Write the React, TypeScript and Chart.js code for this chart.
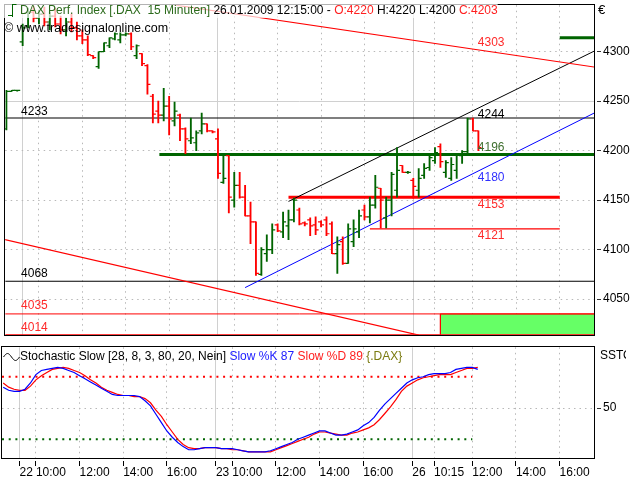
import React, { useEffect, useRef } from 'react';
import { Chart, registerables } from 'chart.js';

Chart.register(...registerables);

const FONT = '"Liberation Sans", Arial, Helvetica, sans-serif';
const GREEN = '#006400';
const RED = '#ff0000';
const BLUE = '#0000ff';

// ---------------- data (bar index -2 .. 85, 15-minute bars) ----------------
const FIRST_BAR = -2;
const opens = [
  4222, 4260, 4261, 4310, 4326, 4340, 4334, 4338, 4330, 4336, 4328, 4322, 4330, 4324, 4316, 4312,
  4296, 4285, 4300, 4306, 4313, 4312, 4317, 4318, 4296, 4298, 4286, 4255, 4240, 4236, 4245, 4230,
  4236, 4222, 4210, 4208, 4220, 4227, 4220, 4212, 4168, 4195, 4150, 4165, 4153, 4134, 4128, 4075,
  4096, 4100, 4125, 4118, 4124, 4130, 4140, 4127, 4130, 4125, 4128, 4130, 4126, 4096, 4108, 4086,
  4108, 4118, 4140, 4133, 4145, 4162, 4132, 4150, 4160, 4185, 4178, 4170, 4160, 4175, 4183, 4190,
  4204, 4178, 4172, 4180, 4195, 4199, 4232, 4220,
];
const highs = [
  4261, 4261, 4261, 4328, 4344, 4346, 4342, 4345, 4340, 4344, 4336, 4334, 4338, 4330, 4322, 4316,
  4296, 4300, 4309, 4314, 4319, 4319, 4319, 4319, 4307, 4298, 4287, 4257, 4250, 4263, 4255, 4249,
  4237, 4223, 4233, 4220, 4238, 4227, 4220, 4222, 4196, 4195, 4178, 4178, 4165, 4148, 4128, 4102,
  4115, 4126, 4126, 4138, 4140, 4152, 4142, 4128, 4132, 4133, 4129, 4133, 4128, 4113, 4113, 4126,
  4130, 4140, 4145, 4153, 4175, 4162, 4153, 4178, 4203, 4185, 4179, 4172, 4182, 4187, 4197, 4203,
  4207, 4190, 4193, 4197, 4200, 4233, 4233, 4220,
];
const lows = [
  4221, 4260, 4260, 4306, 4324, 4330, 4328, 4326, 4322, 4325, 4318, 4316, 4320, 4312, 4308, 4296,
  4293, 4283, 4300, 4304, 4312, 4309, 4316, 4302, 4293, 4286, 4257, 4228, 4228, 4230, 4216, 4225,
  4210, 4197, 4207, 4200, 4217, 4219, 4218, 4172, 4167, 4137, 4143, 4152, 4134, 4106, 4074, 4074,
  4088, 4096, 4118, 4112, 4110, 4128, 4125, 4124, 4114, 4115, 4123, 4114, 4096, 4076, 4085, 4086,
  4103, 4112, 4130, 4127, 4142, 4122, 4122, 4134, 4153, 4178, 4177, 4152, 4153, 4172, 4180, 4187,
  4183, 4173, 4170, 4172, 4187, 4197, 4220, 4200,
];
const closes = [
  4260, 4261, 4261, 4324, 4340, 4334, 4338, 4330, 4336, 4328, 4322, 4330, 4324, 4316, 4312, 4297,
  4294, 4300, 4309, 4314, 4318, 4317, 4318, 4305, 4306, 4288, 4267, 4237, 4236, 4245, 4232, 4240,
  4222, 4212, 4213, 4218, 4227, 4220, 4219, 4177, 4172, 4153, 4165, 4153, 4134, 4128, 4076, 4100,
  4100, 4120, 4119, 4128, 4130, 4150, 4126, 4126, 4124, 4120, 4125, 4116, 4096, 4105, 4086, 4121,
  4121, 4134, 4133, 4145, 4163, 4150, 4150, 4176, 4180, 4178, 4178, 4164, 4172, 4182, 4193, 4198,
  4189, 4188, 4186, 4196, 4199, 4232, 4220, 4203,
];
const slowK = [
  70, 67, 66, 66, 68, 74, 82, 86, 87, 88, 89, 88, 86, 84, 81, 78,
  75, 72, 69, 66, 63, 62, 62, 62, 62, 61, 57, 52, 44, 36, 28, 22,
  17, 13, 10, 10, 11, 12, 12, 12, 11, 11, 11, 10, 9, 8, 8, 8,
  8, 9, 11, 13, 15, 17, 20, 22, 24, 26, 28, 28, 26, 24, 24, 25,
  27, 29, 33, 36, 41, 48, 54, 59, 64, 69, 74, 77, 79, 80, 82, 83,
  83, 83, 84, 87, 88, 89, 89, 87,
];
const slowD = [
  74, 70, 68, 67, 67, 71, 77, 81, 84, 87, 88, 89, 88, 86, 84, 81,
  77, 74, 70, 67, 65, 63, 62, 62, 61, 61, 59, 55, 48, 42, 34, 27,
  20, 15, 12, 11, 11, 12, 12, 12, 11, 11, 10, 10, 9, 8, 8, 8,
  8, 8, 10, 12, 14, 16, 18, 20, 22, 25, 27, 27, 26, 25, 24, 24,
  26, 27, 29, 31, 34, 39, 45, 51, 58, 66, 71, 74, 77, 79, 80, 81,
  82, 82, 82, 84, 86, 88, 88, 89,
];

const timeTicks = [1, 4, 12, 20, 28, 37, 40, 48, 56, 64, 73, 77, 84, 92, 100];
const timeTickLabels = ['22', '10:00', '12:00', '14:00', '16:00', '23', '10:00', '12:00', '14:00', '16:00', '26', '10:15', '12:00', '14:00', '16:00'];
const dayTicks = [1, 37, 73];
const priceTicks = [4050, 4100, 4150, 4200, 4250, 4300];
const majorPriceTicks = [4250];
const stochTicks = [50];

const X_MIN = -2.218;
const X_MAX = 106.31;
const PRICE_MIN = 4013.9;
const PRICE_MAX = 4347;
const STOCH_MIN = 1.8;
const STOCH_MAX = 108.2;

// drawing tools on the price panel
const horizontalLevels = [
  { from: X_MIN, to: X_MAX, value: 4233, color: '#000000', width: 1.2 },
  { from: X_MIN, to: X_MAX, value: 4068, color: '#000000', width: 1.2 },
  { from: X_MIN, to: X_MAX, value: 4035, color: RED, width: 1 },
  { from: X_MIN, to: X_MAX, value: 4014, color: RED, width: 1.2 },
  { from: 26.2, to: X_MAX, value: 4196, color: GREEN, width: 3 },
  { from: 50, to: 100, value: 4153, color: RED, width: 3 },
  { from: 65, to: 100, value: 4121, color: RED, width: 1.2 },
  { from: 100, to: X_MAX, value: 4314, color: GREEN, width: 3 },
];
const trendLines = [
  { x1: 29, y1: 4347.2, x2: 107, y2: 4284.0, color: RED, width: 1.2 },
  { x1: -3, y1: 4111.0, x2: 74, y2: 4013.6, color: RED, width: 1.2 },
  { x1: 50, y1: 4148.7, x2: 106.31, y2: 4300.5, color: '#000000', width: 1 },
  { x1: 42, y1: 4061.6, x2: 106.31, y2: 4237.9, color: BLUE, width: 1 },
];
const zoneBox = { from: 78, to: X_MAX, low: 4014, high: 4035, fill: '#66ff66', border: RED };
const levelLabels = [
  { text: '4233', x: 0.7, y: 4239.7, color: '#000000' },
  { text: '4068', x: 0.7, y: 4075.8, color: '#000000' },
  { text: '4035', x: 0.7, y: 4043.5, color: '#ff2a2a' },
  { text: '4014', x: 0.7, y: 4021.2, color: '#ff2a2a' },
  { text: '4303', x: 84.9, y: 4309.2, color: '#ff2a2a' },
  { text: '4244', x: 84.9, y: 4236.7, color: '#000000' },
  { text: '4196', x: 84.9, y: 4203.3, color: '#3f6f2f' },
  { text: '4180', x: 84.9, y: 4172.2, color: '#3030ff' },
  { text: '4153', x: 84.9, y: 4145.4, color: '#ff2a2a' },
  { text: '4121', x: 84.9, y: 4113.9, color: '#ff2a2a' },
];
const stochLevels = [
  { value: 80, color: RED },
  { value: 20, color: GREEN },
];
const STOCH_LEVEL_END = 84;

// ---------------- helpers ----------------
const barIdx = opens.map((_, k) => FIRST_BAR + k);
const barColors = closes.map((c, k) => (c >= opens[k] ? GREEN : RED));
const TICK_OFF = 0.275;
const last = (a: number[]) => a[a.length - 1];

const xScale = (showLabels: boolean) => ({
  type: 'linear' as const,
  min: X_MIN,
  max: X_MAX,
  offset: false,
  display: true,
  afterBuildTicks: (s: any) => {
    s.ticks = timeTicks.map((v) => ({ value: v }));
  },
  afterFit: (s: any) => {
    s.height = showLabels ? 21.7 : 0;
    s.paddingLeft = 0;
    s.paddingRight = 0;
  },
  grid: {
    display: true,
    offset: false,
    drawOnChartArea: true,
    drawTicks: showLabels,
    tickLength: 8,
    tickColor: '#000000',
    tickWidth: 1,
    tickBorderDash: [0, 3, 5, 30],
    lineWidth: 1,
    color: (ctx: any) => (ctx.tick && dayTicks.includes(ctx.tick.value) ? '#d0d0d0' : '#b8b8b8'),
  },
  border: {
    display: false,
    dash: (ctx: any) => (ctx.tick && dayTicks.includes(ctx.tick.value) ? [] : [1.5, 4]),
  },
  ticks: {
    display: showLabels,
    autoSkip: false,
    maxRotation: 0,
    minRotation: 0,
    align: 'start' as const,
    padding: -1,
    color: '#000000',
    font: { family: FONT, size: 12 },
    callback: (v: any) => {
      const k = timeTicks.indexOf(Number(v));
      return k >= 0 ? timeTickLabels[k] : '';
    },
  },
});

const yScale = (min: number, max: number, ticks: number[], major: number[]) => ({
  type: 'linear' as const,
  position: 'right' as const,
  min,
  max,
  afterBuildTicks: (s: any) => {
    s.ticks = ticks.map((v) => ({ value: v }));
  },
  afterFit: (s: any) => {
    s.width = 46;
    s.paddingTop = 0;
    s.paddingBottom = 0;
  },
  grid: {
    drawTicks: true,
    tickLength: 7,
    tickColor: '#333333',
    tickWidth: 1,
    tickBorderDash: [0, 3, 4, 30],
    lineWidth: 1,
    color: (ctx: any) => (ctx.tick && major.includes(ctx.tick.value) ? '#d0d0d0' : '#b8b8b8'),
  },
  border: {
    display: false,
    dash: (ctx: any) => (ctx.tick && major.includes(ctx.tick.value) ? [] : [1.5, 4]),
  },
  ticks: {
    autoSkip: false,
    padding: 2,
    crossAlign: 'near' as const,
    color: '#000000',
    font: { family: FONT, size: 12 },
    callback: (v: any) => String(v),
  },
});

function drawParts(ctx: CanvasRenderingContext2D, parts: { text: string; color: string }[], x: number, y: number) {
  let cx = x;
  for (const p of parts) {
    ctx.fillStyle = p.color;
    ctx.fillText(p.text, cx, y);
    cx += ctx.measureText(p.text).width;
  }
  return cx;
}

function frame(ctx: CanvasRenderingContext2D, a: any) {
  const l = Math.floor(a.left) - 0.5;
  const t = Math.floor(a.top) - 0.5;
  const r = Math.round(a.right) + 0.5;
  const b = Math.round(a.bottom) + 0.5;
  ctx.save();
  ctx.strokeStyle = '#000000';
  ctx.lineWidth = 1;
  ctx.strokeRect(l, t, r - l, b - t);
  ctx.restore();
}

const mainDecor = {
  id: 'mainDecor',
  beforeDatasetsDraw(chart: any) {
    frame(chart.ctx, chart.chartArea);
  },
  afterDatasetsDraw(chart: any) {
    const { ctx, scales } = chart;
    const xs = scales.x;
    const ys = scales.y;
    ctx.save();
    ctx.font = `12px ${FONT}`;
    ctx.textBaseline = 'middle';
    ctx.textAlign = 'left';
    for (const l of levelLabels) {
      ctx.fillStyle = l.color;
      ctx.fillText(l.text, xs.getPixelForValue(l.x), ys.getPixelForValue(l.y));
    }
    // title
    const titleParts = [
      { text: 'DAX Perf. Index [.DAX  15 Minuten]', color: '#2b6a1b' },
      { text: ' 26.01.2009 12:15:00 - ', color: '#000000' },
      { text: `O:${last(opens)}`, color: '#ff2020' },
      { text: ` H:${last(highs)} L:${last(lows)} `, color: '#000000' },
      { text: `C:${last(closes)}`, color: '#ff2020' },
    ];
    let w = 0;
    for (const p of titleParts) w += ctx.measureText(p.text).width;
    ctx.fillStyle = 'rgba(255,255,255,0.7)';
    ctx.fillRect(3, 3, 17 + w, 15);
    drawParts(ctx, titleParts, 20, 11);
    // icon
    ctx.strokeStyle = GREEN;
    ctx.lineWidth = 1;
    ctx.beginPath();
    ctx.moveTo(12.5, 4);
    ctx.lineTo(12.5, 17);
    ctx.moveTo(8, 15.5);
    ctx.lineTo(12.5, 15.5);
    ctx.moveTo(12.5, 4.5);
    ctx.lineTo(16.5, 4.5);
    ctx.stroke();
    // copyright
    ctx.font = `12.5px ${FONT}`;
    ctx.fillStyle = '#000000';
    ctx.fillText('\u00a9 www.tradesignalonline.com', 4, 29);
    // currency
    ctx.font = `13px ${FONT}`;
    ctx.fillText('\u20ac', 598, 10);
    ctx.restore();
  },
};

const stochDecor = {
  id: 'stochDecor',
  afterDatasetsDraw(chart: any) {
    const { ctx, chartArea } = chart;
    frame(ctx, chartArea);
    ctx.save();
    ctx.font = `12px ${FONT}`;
    ctx.textBaseline = 'middle';
    ctx.textAlign = 'left';
    const parts = [
      { text: 'Stochastic Slow [28, 8, 3, 80, 20, Nein]', color: '#000000' },
      { text: ` Slow %K ${last(slowK)}`, color: '#2020ff' },
      { text: ` Slow %D ${last(slowD)}`, color: '#ff2020' },
      { text: ' {.DAX}', color: '#7a7a10' },
    ];
    drawParts(ctx, parts, 20, 17);
    // sine glyph
    ctx.strokeStyle = '#000000';
    ctx.lineWidth = 1;
    ctx.beginPath();
    for (let k = 0; k <= 16; k++) {
      const px = 3.5 + k;
      const py = 17 - 3.5 * Math.sin((k / 16) * Math.PI * 2);
      if (k === 0) ctx.moveTo(px, py);
      else ctx.lineTo(px, py);
    }
    ctx.stroke();
    // clipped axis caption
    ctx.beginPath();
    ctx.rect(596, 0, 30, 40);
    ctx.clip();
    ctx.fillStyle = '#000000';
    ctx.fillText('SSTO', 600, 16);
    ctx.restore();
  },
};

function mainConfig(): any {
  const datasets: any[] = [
    {
      type: 'line',
      data: [
        { x: zoneBox.from, y: zoneBox.high },
        { x: zoneBox.to, y: zoneBox.high },
      ],
      borderColor: zoneBox.border,
      borderWidth: 1,
      backgroundColor: zoneBox.fill,
      fill: { value: zoneBox.low },
      pointRadius: 0,
      order: 10,
    },
    {
      type: 'line',
      data: [
        { x: zoneBox.from, y: zoneBox.high },
        { x: zoneBox.from, y: zoneBox.low },
      ],
      borderColor: zoneBox.border,
      borderWidth: 1,
      pointRadius: 0,
      order: 9,
    },
    ...horizontalLevels.map((h) => ({
      type: 'line',
      data: [
        { x: h.from, y: h.value },
        { x: h.to, y: h.value },
      ],
      borderColor: h.color,
      borderWidth: h.width,
      pointRadius: 0,
      order: 5,
    })),
    ...trendLines.map((t) => ({
      type: 'line',
      data: [
        { x: t.x1, y: t.y1 },
        { x: t.x2, y: t.y2 },
      ],
      borderColor: t.color,
      borderWidth: t.width,
      pointRadius: 0,
      clip: 0,
      order: 4,
    })),
    {
      type: 'bar',
      data: barIdx.map((x, k) => ({ x, y: [lows[k], highs[k]] })),
      backgroundColor: barColors,
      borderWidth: 0,
      barThickness: 1.2,
      order: 3,
    },
    {
      type: 'scatter',
      data: barIdx.map((x, k) => ({ x: x - TICK_OFF, y: opens[k] })),
      pointStyle: 'line',
      pointRadius: 1.5,
      pointBorderWidth: 1.2,
      pointBorderColor: barColors,
      pointBackgroundColor: barColors,
      order: 2,
    },
    {
      type: 'scatter',
      data: barIdx.map((x, k) => ({ x: x + TICK_OFF, y: closes[k] })),
      pointStyle: 'line',
      pointRadius: 1.5,
      pointBorderWidth: 1.2,
      pointBorderColor: barColors,
      pointBackgroundColor: barColors,
      order: 1,
    },
  ];
  return {
    type: 'bar',
    data: { datasets },
    options: {
      responsive: false,
      animation: false,
      devicePixelRatio: 1,
      layout: { padding: { left: 2, top: 2, right: 0, bottom: 2.7 } },
      plugins: { legend: { display: false }, tooltip: { enabled: false } },
      events: [],
      scales: {
        x: xScale(false),
        y: yScale(PRICE_MIN, PRICE_MAX, priceTicks, majorPriceTicks),
      },
    },
    plugins: [mainDecor],
  };
}

function stochConfig(): any {
  const datasets: any[] = [
    ...stochLevels.map((s) => ({
      type: 'line',
      data: [
        { x: X_MIN, y: s.value },
        { x: STOCH_LEVEL_END, y: s.value },
      ],
      borderColor: s.color,
      borderWidth: 2,
      borderDash: [2, 4.7],
      pointRadius: 0,
      order: 5,
    })),
    {
      type: 'line',
      data: barIdx.map((x, k) => ({ x, y: slowD[k] })),
      borderColor: RED,
      borderWidth: 1.2,
      pointRadius: 0,
      order: 2,
    },
    {
      type: 'line',
      data: barIdx.map((x, k) => ({ x, y: slowK[k] })),
      borderColor: BLUE,
      borderWidth: 1.2,
      pointRadius: 0,
      order: 1,
    },
  ];
  return {
    type: 'line',
    data: { datasets },
    options: {
      responsive: false,
      animation: false,
      devicePixelRatio: 1,
      layout: { padding: { left: 2, top: 7.3, right: 0, bottom: 0 } },
      plugins: { legend: { display: false }, tooltip: { enabled: false } },
      events: [],
      scales: {
        x: xScale(true),
        y: yScale(STOCH_MIN, STOCH_MAX, stochTicks, []),
      },
    },
    plugins: [stochDecor],
  };
}

export default function App() {
  const mainRef = useRef<HTMLCanvasElement>(null);
  const stochRef = useRef<HTMLCanvasElement>(null);
  useEffect(() => {
    document.body.style.margin = '0';
    const c1 = new Chart(mainRef.current as HTMLCanvasElement, mainConfig());
    const c2 = new Chart(stochRef.current as HTMLCanvasElement, stochConfig());
    return () => {
      c1.destroy();
      c2.destroy();
    };
  }, []);
  return (
    <div style={{ position: 'fixed', left: 0, top: 0, width: 640, height: 480, background: '#ffffff', overflow: 'hidden' }}>
      <canvas ref={mainRef} width={640} height={340} style={{ position: 'absolute', left: 0, top: 0, width: 640, height: 340 }} />
      <canvas ref={stochRef} width={640} height={140} style={{ position: 'absolute', left: 0, top: 340, width: 640, height: 140 }} />
    </div>
  );
}
